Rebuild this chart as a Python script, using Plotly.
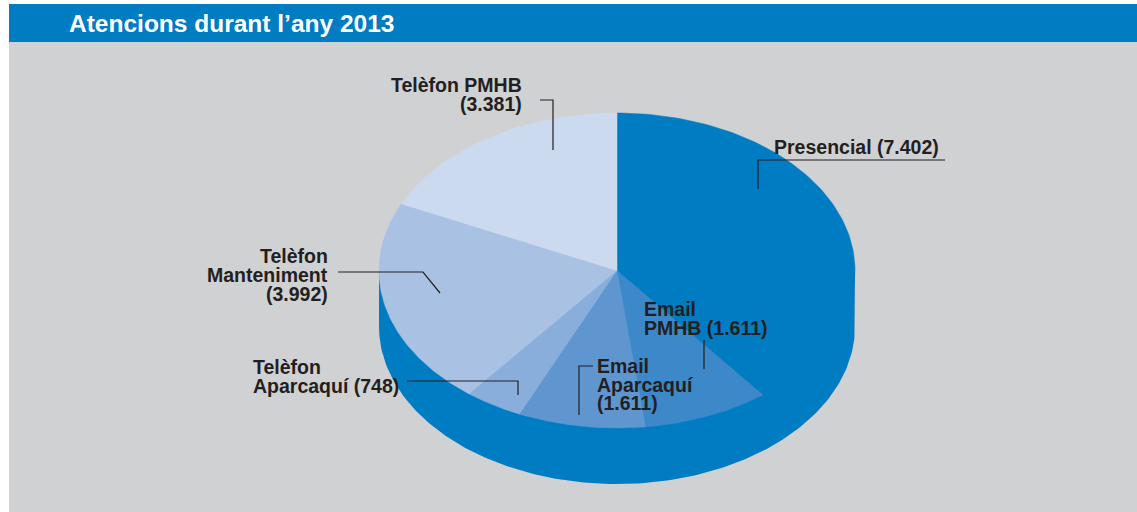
import numpy as np
import plotly.graph_objects as go

# Values from the chart, clockwise from 12 o'clock
categories = ["Presencial", "Email PMHB", "Email Aparcaquí", "Telèfon Aparcaquí",
              "Telèfon Manteniment", "Telèfon PMHB"]
values = [7402, 1611, 1611, 748, 3992, 3381]
slice_colors = ["#007cc2", "#3d88c9", "#5f96d0", "#8aaedc", "#a9c2e4", "#cbdaee"]

TITLE = "Atencions durant l’any 2013"
BLUE = "#007cc2"
PANEL = "#d0d1d3"
INK = "#231f20"

# Ellipse geometry of the tilted pie, in page pixels
CX, CY = 617, 270.5
RX, RY = 238, 157.5
DEPTH = 56

# text, x, y, anchor
label_lines = [
    ("Telèfon PMHB", 522, 85, "right"),
    ("(3.381)", 522, 104, "right"),
    ("Presencial (7.402)", 774, 147, "left"),
    ("Telèfon", 328, 256, "right"),
    ("Manteniment", 328, 275, "right"),
    ("(3.992)", 328, 294, "right"),
    ("Telèfon", 253, 367, "left"),
    ("Aparcaquí (748)", 253, 386, "left"),
    ("Email", 597, 366, "left"),
    ("Aparcaquí", 597, 385, "left"),
    ("(1.611)", 597, 403, "left"),
    ("Email", 644, 309, "left"),
    ("PMHB (1.611)", 644, 328, "left"),
]

leaders = [
    ([540, 553, 553], [100, 100, 150]),
    ([945, 758, 758], [160, 160, 189]),
    ([338, 423, 440], [272, 272, 293]),
    ([407, 518, 518], [381, 381, 395]),
    ([593, 579, 579], [366, 366, 415]),
    ([704, 704], [340, 369]),
]


def ellipse_point(angle, dy=0):
    # angle in radians, clockwise from the top
    return CX + RX * np.sin(angle), CY - RY * np.cos(angle) + dy


fig = go.Figure()

# Side wall of the pie, closed through the centre so no seam shows under the top face
front = np.linspace(np.pi / 2, 3 * np.pi / 2, 181)
low_x, low_y = ellipse_point(front, DEPTH)
fig.add_trace(go.Scatter(
    x=np.concatenate([[CX + RX], low_x, [CX - RX, CX + RX]]),
    y=np.concatenate([[CY], low_y, [CY, CY]]),
    mode="lines",
    fill="toself",
    fillcolor=BLUE,
    line=dict(color=BLUE, width=0),
    hoverinfo="skip",
    showlegend=False,
))

# Top face, one polygon per slice
edges = np.cumsum([0] + values) / sum(values) * 2 * np.pi
for i, cat in enumerate(categories):
    t = np.linspace(edges[i], edges[i + 1], 120)
    ex, ey = ellipse_point(t)
    fig.add_trace(go.Scatter(
        x=np.concatenate([[CX], ex, [CX]]),
        y=np.concatenate([[CY], ey, [CY]]),
        mode="lines",
        fill="toself",
        fillcolor=slice_colors[i],
        line=dict(color=slice_colors[i], width=0.5),
        name=cat,
        hovertemplate=f"{cat}: {values[i]:,}".replace(",", ".") + "<extra></extra>",
        showlegend=False,
    ))

# Leader lines
for lx, ly in leaders:
    fig.add_trace(go.Scatter(
        x=lx, y=ly,
        mode="lines",
        line=dict(color=INK, width=1.2),
        hoverinfo="skip",
        showlegend=False,
    ))

# One annotation per line: the reference's leading is tighter than plotly's <br>
for text, x, y, anchor in label_lines:
    fig.add_annotation(
        x=x, y=y, text=f"<b>{text}</b>",
        xanchor=anchor, yanchor="middle",
        showarrow=False,
        borderpad=0, borderwidth=0,
        font=dict(family="Liberation Sans", size=19.5, color=INK),
    )

fig.add_annotation(
    x=69, y=23.5, text=f"<b>{TITLE}</b>",
    xanchor="left", yanchor="middle",
    showarrow=False,
    borderpad=0, borderwidth=0,
    font=dict(family="Liberation Sans", size=24.5, color="#ffffff"),
)

fig.update_layout(
    width=1137,
    height=512,
    margin=dict(l=0, r=0, t=0, b=0),
    paper_bgcolor="#ffffff",
    plot_bgcolor="#ffffff",
    hovermode="closest",
    xaxis=dict(range=[0, 1137], visible=False, fixedrange=True),
    yaxis=dict(range=[512, 0], visible=False, fixedrange=True),
    shapes=[
        dict(type="rect", layer="below", x0=9, x1=1137, y0=42, y1=512,
             fillcolor=PANEL, line_width=0),
        dict(type="rect", layer="below", x0=9, x1=1137, y0=4, y1=42,
             fillcolor=BLUE, line_width=0),
    ],
)

# the page's default body margin would push the figure 8px in
fig.write_html("out.html", config=dict(displayModeBar=False),
               post_script="document.body.style.margin='0';document.documentElement.style.overflow='hidden';")
